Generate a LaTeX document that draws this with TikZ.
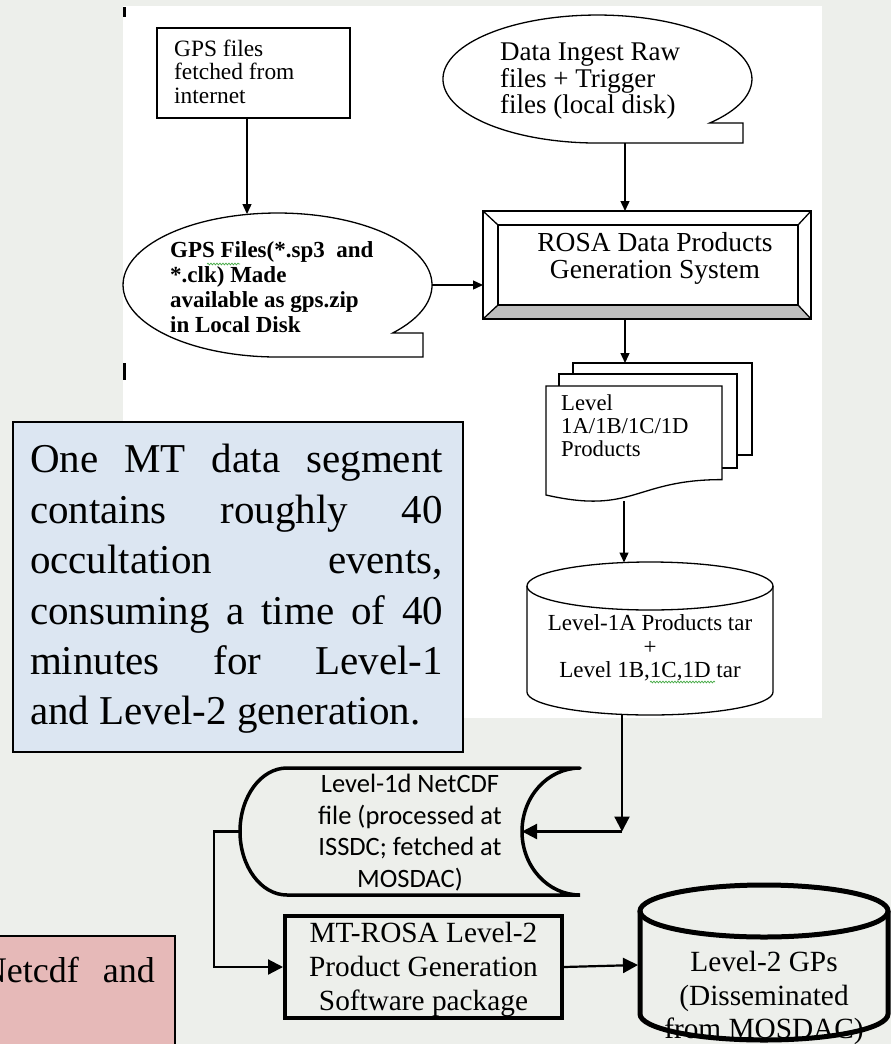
\documentclass[tikz,border=0pt]{standalone}
\usepackage{fontspec}
\setmainfont{Liberation Serif}
\newfontfamily\calib{Carlito}
\usetikzlibrary{arrows.meta,decorations.pathmorphing}
\definecolor{bg}{RGB}{237,239,235}
\definecolor{bluefill}{RGB}{220,230,242}
\definecolor{pinkfill}{RGB}{230,185,184}
\definecolor{bevelgray}{RGB}{190,190,190}
\definecolor{squig}{RGB}{70,170,70}
\begin{document}
\begin{tikzpicture}[x=1pt,y=-1pt,
  topline/.style={line width=1.3pt},
  toparrow/.style={line width=1.4pt,-{Triangle[length=10pt,width=9pt]}},
  botarrow/.style={line width=2.2pt,-{Triangle[length=15pt,width=15pt]}},
  txt/.style={inner sep=0pt,align=left},
  ctxt/.style={inner sep=0pt,align=center},
  squiggle/.style={squig,line width=0.7pt,decorate,decoration={snake,amplitude=0.9pt,segment length=3pt}},
]
\useasboundingbox (0,0) rectangle (891,1044);
\clip (0,0) rectangle (891,1044);
\fill[bg] (0,0) rectangle (891,1044);
\fill[white] (123,6) rectangle (822,718);
% tick marks
\draw[line width=3pt] (124,7) -- (124,17);
\draw[line width=3pt] (124,363) -- (124,380);

% ---------- GPS files fetched box
\node[draw,topline,fill=white,minimum width=193pt,minimum height=90pt,inner sep=0pt] (gpsfetch) at (253.5,73) {};
\node[txt,anchor=west,font=\fontsize{23.4}{23.5}\selectfont] (gpsfetchtxt) at (174,71.5) {GPS files\\fetched from\\internet};

% ---------- GPS Files callout
\filldraw[fill=white,topline] (392.7,333) arc[start angle=-41.8,end angle=270,x radius=154.5pt,y radius=72pt] -- (423,357) -- (423,333) -- cycle;
\coordinate (gpscall-n) at (247,214);
\coordinate (gpscall-e) at (432,285);
\node[txt,anchor=west,font=\bfseries\fontsize{23}{25}\selectfont] (gpscalltxt) at (170,287.5) {GPS Files(*.sp3\ \ and\\*.clk) Made\\available as gps.zip\\in Local Disk};
\draw[squiggle] (207,264) -- (240,264);

% ---------- Data ingest callout
\filldraw[fill=white,topline] (709.7,123) arc[start angle=-43.4,end angle=270,x radius=154.5pt,y radius=64pt] -- (743,143) -- (743,123) -- cycle;
\coordinate (ingest-s) at (625,143);
\node[txt,anchor=west,font=\fontsize{27}{26.5}\selectfont] (ingesttxt) at (500,81.5) {Data Ingest Raw\\files + Trigger\\files (local disk)};

% ---------- ROSA bevel box
\fill[white] (483,211) rectangle (811,319);
\fill[bevelgray] (483,319) -- (498,305) -- (798,305) -- (811,319) -- cycle;
\draw[topline] (483,211) rectangle (811,319);
\draw[topline] (498,225) rectangle (798,305);
\draw[topline] (483,211) -- (498,225) (811,211) -- (798,225) (483,319) -- (498,305) (811,319) -- (798,305);
\coordinate (rosa-n) at (625,211);
\coordinate (rosa-w) at (483,285);
\coordinate (rosa-s) at (625,319);
\node[ctxt,font=\fontsize{27.5}{27.5}\selectfont] (rosatxt) at (655,258.5) {ROSA Data Products\\Generation System};

% ---------- multi-document
\filldraw[fill=white,topline] (573,363) rectangle (752,455);
\filldraw[fill=white,topline] (559,374) rectangle (737,468);
\filldraw[fill=white,topline] (546,386) -- (722,386) -- (722,479.6) .. controls (634,479.6) and (634,515) .. (546,495) -- cycle;
\coordinate (docs-n) at (625,363);
\coordinate (docs-s) at (624,501);
\node[txt,anchor=west,font=\fontsize{22.7}{23}\selectfont] (docstxt) at (561,426) {Level\\1A/1B/1C/1D\\Products};

% ---------- cylinder level-1
\filldraw[fill=white,topline] (527,586) -- (527,692) arc[start angle=180,end angle=360,x radius=123pt,y radius=23pt] -- (773,586);
\draw[topline] (650,586) ellipse[x radius=123pt,y radius=24pt];
\coordinate (cyl-n) at (624,562.5);
\coordinate (cyl-s) at (622,714.4);
\node[ctxt,font=\fontsize{23}{23.5}\selectfont] (cyltxt) at (650,648) {Level-1A Products tar\\+\\Level 1B,1C,1D tar};
\draw[squiggle] (650,682) -- (715,682);

% ---------- top arrows
\draw[toparrow] (gpscall-n |- gpsfetch.south) -- (gpscall-n);
\draw[toparrow] (ingest-s) -- (rosa-n);
\draw[toparrow] (gpscall-e) -- (rosa-w);
\draw[toparrow] (rosa-s) -- (docs-n);
\draw[toparrow] (docs-s) -- (cyl-n);

% ---------- blue note
\node[draw,line width=1.5pt,fill=bluefill,minimum width=450pt,minimum height=330pt,inner sep=0pt] (note) at (238,587) {};
\node[txt,font=\fontsize{41}{50.4}\selectfont] (notetxt) at (236.5,589) {%
\makebox[413pt][s]{One MT data segment}\\
\makebox[413pt][s]{contains roughly 40}\\
\makebox[413pt][s]{occultation events,}\\
\makebox[413pt][s]{consuming a time of 40}\\
\makebox[413pt][s]{minutes for Level-1}\\
\makebox[413pt][l]{and Level-2 generation.}};

% ---------- pink note
\node[draw,line width=1.5pt,fill=pinkfill,minimum width=195pt,minimum height=130pt,inner sep=0pt] (pink) at (77.5,1001) {};
\node[inner sep=0pt,anchor=base east,font=\fontsize{36}{40}\selectfont] (pinktxt) at (155,982) {Netcdf\hspace{24pt}and};

% ---------- NetCDF stored-data shape
\draw[line width=3.5pt,line cap=round] (580,768) -- (287,768) arc[start angle=90,end angle=270,x radius=47pt,y radius=63.5pt] -- (580,895) arc[start angle=270,end angle=90,x radius=58pt,y radius=63.5pt];
\coordinate (netcdf-w) at (240,831.5);
\coordinate (netcdf-e) at (522,831.5);
\node[ctxt,font=\calib\fontsize{26.5}{31.5}\selectfont] (netcdftxt) at (410,832.5) {Level-1d NetCDF\\file (processed at\\ISSDC; fetched at\\MOSDAC)};

% ---------- MT-ROSA box
\node[draw,line width=4pt,minimum width=277pt,minimum height=102pt,inner sep=0pt] (mtrosa) at (423.5,967) {};
\node[ctxt,font=\fontsize{29.3}{34}\selectfont] (mtrosatxt) at (423.5,969) {MT-ROSA Level-2\\Product Generation\\Software package};

% ---------- Level-2 cylinder
\draw[line width=5pt] (640,911) -- (640,1014) arc[start angle=180,end angle=360,x radius=124pt,y radius=26pt] -- (888,911);
\draw[line width=5pt] (764,911) ellipse[x radius=124pt,y radius=26pt];
\coordinate (lev2-w) at (638,965);
\node[ctxt,font=\fontsize{29.3}{33.5}\selectfont] (lev2txt) at (764,998) {Level-2 GPs\\(Disseminated\\from MOSDAC)};

% ---------- bottom connectors
\coordinate (corner) at (622,831.5);
\draw[botarrow] (cyl-s) -- (corner);
\draw[botarrow] (corner) -- (netcdf-e);
\draw[botarrow] (netcdf-w) -- (214,831.5) |- (mtrosa.west);
\draw[botarrow] (mtrosa.east) -- (lev2-w);
\end{tikzpicture}
\end{document}
